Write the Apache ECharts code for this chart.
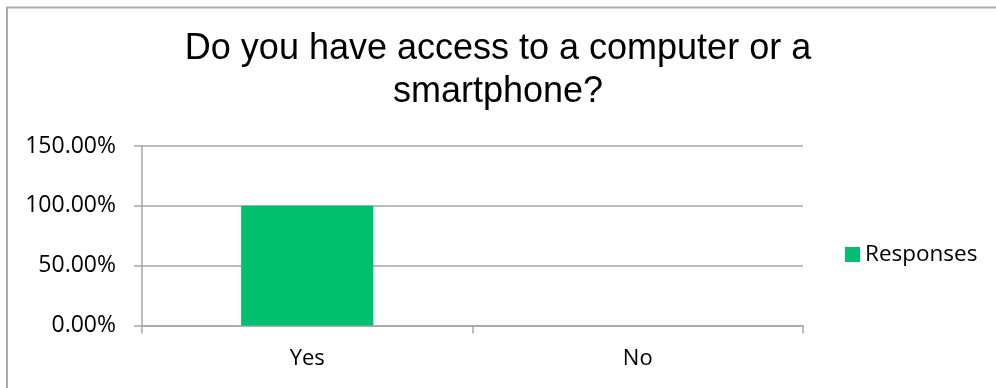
<!DOCTYPE html>
<html>
<head>
<meta charset="utf-8">
<script src="https://cdn.jsdelivr.net/npm/echarts@6/dist/echarts.min.js"></script>
<style>html,body{margin:0;padding:0;background:#fff}#c{width:996px;height:388px}</style>
</head>
<body>
<div id="c"></div>
<script>
const titleText = 'Do you have access to a computer or a\nsmartphone?';
const categories = ['Yes', 'No'];
const seriesName = 'Responses';
const responses = [1.0, 0.0];
const yTicks = { min: 0, max: 1.5, interval: 0.5 };

const gray = '#A6A6A6';
const chart = echarts.init(document.getElementById('c'), null, { renderer: 'canvas' });
chart.setOption({
  animation: false,
  backgroundColor: '#fff',
  graphic: [{
    type: 'rect', silent: true,
    shape: { x: 7, y: 7.5, width: 1000, height: 400 },
    style: { fill: 'none', stroke: '#ADADAD', lineWidth: 2 }
  }],
  title: {
    text: titleText,
    left: 'center',
    top: 23,
    textStyle: { fontFamily: 'Liberation Sans', fontSize: 36, fontWeight: 'normal', color: '#000', lineHeight: 43, align: 'center' }
  },
  legend: {
    data: [seriesName],
    left: 845, top: 243, padding: 0,
    itemWidth: 15, itemHeight: 15,
    icon: 'rect',
    textStyle: { fontFamily: 'Open Sans', fontSize: 22.5, color: '#000' }
  },
  grid: { left: 142, right: 193, top: 146, bottom: 62.5, containLabel: false },
  xAxis: {
    type: 'category',
    data: categories,
    boundaryGap: true,
    axisLine: { lineStyle: { color: gray, width: 1.5 } },
    axisTick: { show: true, length: 8, alignWithLabel: false, lineStyle: { color: gray, width: 1.5 } },
    axisLabel: { fontFamily: 'Open Sans', fontSize: 22, color: '#000', margin: 22 }
  },
  yAxis: {
    type: 'value',
    min: yTicks.min, max: yTicks.max, interval: yTicks.interval,
    axisLine: { show: true, lineStyle: { color: gray, width: 1.5 } },
    axisTick: { show: true, length: 8, lineStyle: { color: gray, width: 1.5 } },
    splitLine: { show: true, lineStyle: { color: gray, width: 1.5 } },
    axisLabel: {
      fontFamily: 'Open Sans', fontSize: 23, color: '#000', margin: 26,
      formatter: v => (v * 100).toFixed(2) + '%'
    }
  },
  series: [{
    name: seriesName,
    type: 'bar',
    data: responses,
    barWidth: '40%',
    itemStyle: { color: '#00BF6F' }
  }]
});
</script>
</body>
</html>
